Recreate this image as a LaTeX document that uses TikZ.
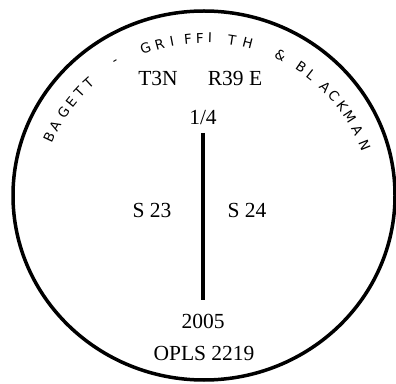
\documentclass[tikz,border=0pt]{standalone}
\usepackage{fontspec}
\setmainfont{Liberation Serif}
\newfontfamily\arcfont{DejaVu Sans}
\begin{document}
\begin{tikzpicture}[x=1pt,y=1pt,
    plabel/.style={font=\fontsize{21.5}{24}\selectfont, inner sep=0pt, anchor=base},
    arcletter/.style={font=\arcfont\fontsize{13.5}{15}\selectfont, inner sep=0pt},
    divider/.style={line width=3.5pt}]
  \useasboundingbox (0,0) rectangle (396,383);
  % outer ring
  \coordinate (ctr) at (204,187.5);
  \draw[line width=3.5pt] (ctr) ellipse [x radius=191, y radius=184.5];
  % surveyor name round the top
  \coordinate (arcc) at (205,173);
  \foreach \ch/\a [count=\i] in {B/155.1, A/150.7, G/145.3, E/141, T/136.9, T/132.6, -/121.2,
      G/110.2, R/105.3, I/101.1, F/95.7, F/91.7, I/88.3, T/81, H/75.6, \&/64,
      B/56, L/51.9, A/45.7, C/41.4, K/37.1, M/32.8, A/27.6, N/21.9}
    \node[arcletter, rotate=\a-90] (l\i) at ([shift={(\a:172)}]arcc) {\ch};
  % township and range
  \node[plabel] (twp) at (158,297) {T3N};
  \node[plabel] (rng) at (235,297) {R39 E};
  \node[plabel] (qtr) at (203,258) {1/4};
  % section line
  \coordinate (ltop) at (203,250);
  \coordinate (lbot) at (203,83);
  \draw[divider] (ltop) -- (lbot);
  \node[plabel] (sw) at (152,165) {S 23};
  \node[plabel] (se) at (247,165) {S 24};
  \node[plabel] (yr) at (203,55) {2005};
  \node[plabel] (lic) at (204,23) {OPLS 2219};
\end{tikzpicture}
\end{document}
